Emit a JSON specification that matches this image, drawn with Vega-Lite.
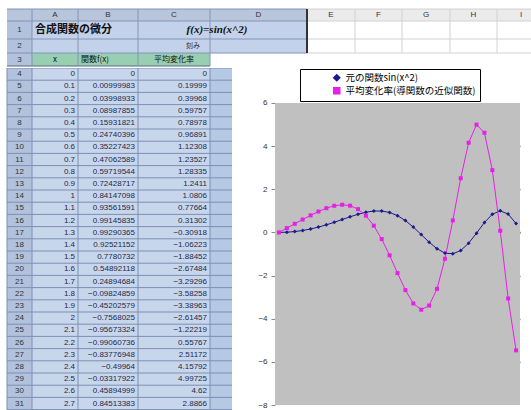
{
  "$schema": "https://vega.github.io/schema/vega-lite/v6.json",
  "padding": 0,
  "background": "white",
  "spacing": 0,
  "resolve": {"legend": {"color": "independent", "shape": "independent"}},
  "config": {"view": {"stroke": null}, "font": "Noto Sans CJK JP"},
  "datasets": {
    "t": [
      {"r":4,"x":0,"f":0,"d":0},
      {"r":5,"x":0.1,"f":0.00999983,"d":0.19999},
      {"r":6,"x":0.2,"f":0.03998933,"d":0.39968},
      {"r":7,"x":0.3,"f":0.08987855,"d":0.59757},
      {"r":8,"x":0.4,"f":0.15931821,"d":0.78978},
      {"r":9,"x":0.5,"f":0.24740396,"d":0.96891},
      {"r":10,"x":0.6,"f":0.35227423,"d":1.12308},
      {"r":11,"x":0.7,"f":0.47062589,"d":1.23527},
      {"r":12,"x":0.8,"f":0.59719544,"d":1.28335},
      {"r":13,"x":0.9,"f":0.72428717,"d":1.2411},
      {"r":14,"x":1,"f":0.84147098,"d":1.0806},
      {"r":15,"x":1.1,"f":0.93561591,"d":0.77664},
      {"r":16,"x":1.2,"f":0.99145835,"d":0.31302},
      {"r":17,"x":1.3,"f":0.99290365,"d":-0.30918},
      {"r":18,"x":1.4,"f":0.92521152,"d":-1.06223},
      {"r":19,"x":1.5,"f":0.7780732,"d":-1.88452},
      {"r":20,"x":1.6,"f":0.54892118,"d":-2.67484},
      {"r":21,"x":1.7,"f":0.24894684,"d":-3.29296},
      {"r":22,"x":1.8,"f":-0.09824859,"d":-3.58258},
      {"r":23,"x":1.9,"f":-0.45202579,"d":-3.38963},
      {"r":24,"x":2,"f":-0.7568025,"d":-2.61457},
      {"r":25,"x":2.1,"f":-0.95673324,"d":-1.22219},
      {"r":26,"x":2.2,"f":-0.99060736,"d":0.55767},
      {"r":27,"x":2.3,"f":-0.83776948,"d":2.51172},
      {"r":28,"x":2.4,"f":-0.49964,"d":4.15792},
      {"r":29,"x":2.5,"f":-0.03317922,"d":4.99725},
      {"r":30,"x":2.6,"f":0.45894999,"d":4.62},
      {"r":31,"x":2.7,"f":0.84513383,"d":2.8866},
      {"r":32,"x":2.8,"f":0.99990226,"d":0.07829},
      {"r":33,"x":2.9,"f":0.84936447,"d":-3.06129},
      {"r":34,"x":3,"f":0.41211849,"d":-5.46678}
    ]
  },
  "vconcat": [
    {
      "width": 531,
      "height": 66,
      "data": {"values": [{}]},
      "layer": [
        {"mark": {"type": "rect", "color": "#b9c5db"},
         "encoding": {
           "x": {"datum": 0, "type": "quantitative", "axis": null, "scale": {"type": "linear", "domain": [-1,0,1,2,3,4,5,6,7,8,9,10], "range": [0,7,32,78,138,210,307,355,402,450,497,545], "nice": false, "zero": false}},
           "x2": {"datum": 5},
           "y": {"datum": 0, "type": "quantitative", "axis": null, "scale": {"type": "linear", "domain": [-1,0,1,2,3,4], "range": [0,9,21,39,53,66], "nice": false, "zero": false}},
           "y2": {"datum": 1}}},
        {"mark": {"type": "rect", "color": "#ebebeb"},
         "encoding": {"x": {"datum": 5, "type": "quantitative", "axis": null}, "x2": {"datum": 10}, "y": {"datum": 0, "type": "quantitative", "axis": null}, "y2": {"datum": 1}}},
        {"mark": {"type": "rect", "color": "#c3d2ea"},
         "encoding": {"x": {"datum": 0, "type": "quantitative", "axis": null}, "x2": {"datum": 5}, "y": {"datum": 1, "type": "quantitative", "axis": null}, "y2": {"datum": 3}}},
        {"mark": {"type": "rect", "color": "#b2c2dc"},
         "encoding": {"x": {"datum": 0, "type": "quantitative", "axis": null}, "x2": {"datum": 1}, "y": {"datum": 1, "type": "quantitative", "axis": null}, "y2": {"datum": 4}}},
        {"mark": {"type": "rect", "color": "#98cfb3"},
         "encoding": {"x": {"datum": 1, "type": "quantitative", "axis": null}, "x2": {"datum": 4}, "y": {"datum": 3, "type": "quantitative", "axis": null}, "y2": {"datum": 4}}},
        {"data": {"values": [{"b": 0}, {"b": 1}, {"b": 2}, {"b": 3}]},
         "mark": {"type": "rule", "color": "#8294b6"},
         "encoding": {"y": {"field": "b", "type": "quantitative", "axis": null}, "x": {"datum": 0, "type": "quantitative", "axis": null}, "x2": {"datum": 5}}},
        {"data": {"values": [{"b": 4}]},
         "mark": {"type": "rule", "color": "#55667f"},
         "encoding": {"y": {"field": "b", "type": "quantitative", "axis": null}, "x": {"datum": 0, "type": "quantitative", "axis": null}, "x2": {"datum": 4}}},
        {"data": {"values": [{"b": 0}, {"b": 1}, {"b": 2}, {"b": 3}]},
         "mark": {"type": "rule", "color": "#d2d2d2"},
         "encoding": {"y": {"field": "b", "type": "quantitative", "axis": null}, "x": {"datum": 5, "type": "quantitative", "axis": null}, "x2": {"datum": 10}}},
        {"data": {"values": [{"b": 1}, {"b": 2}, {"b": 3}, {"b": 4}]},
         "mark": {"type": "rule", "color": "#8294b6"},
         "encoding": {"x": {"field": "b", "type": "quantitative", "axis": null}, "y": {"datum": 0, "type": "quantitative", "axis": null}, "y2": {"datum": 4}}},
        {"data": {"values": [{"b": 6}, {"b": 7}, {"b": 8}, {"b": 9}]},
         "mark": {"type": "rule", "color": "#d2d2d2"},
         "encoding": {"x": {"field": "b", "type": "quantitative", "axis": null}, "y": {"datum": 0, "type": "quantitative", "axis": null}, "y2": {"datum": 3}}},
        {"data": {"values": [{"b": 5}]},
         "mark": {"type": "rule", "color": "#333333", "strokeWidth": 2},
         "encoding": {"x": {"field": "b", "type": "quantitative", "axis": null}, "y": {"datum": 0, "type": "quantitative", "axis": null}, "y2": {"datum": 3}}},
        {"data": {"values": [{"c": "A", "cx": 1.5}, {"c": "B", "cx": 2.5}, {"c": "C", "cx": 3.5}, {"c": "D", "cx": 4.5}, {"c": "E", "cx": 5.5}, {"c": "F", "cx": 6.5}, {"c": "G", "cx": 7.5}, {"c": "H", "cx": 8.5}, {"c": "I", "cx": 9.5}]},
         "mark": {"type": "text", "fontSize": 8, "color": "#333333", "font": "Liberation Sans"},
         "encoding": {"x": {"field": "cx", "type": "quantitative", "axis": null}, "y": {"datum": 0.5, "type": "quantitative", "axis": null}, "text": {"field": "c"}}},
        {"data": {"values": [{"t": "1", "cy": 1.5}, {"t": "2", "cy": 2.5}, {"t": "3", "cy": 3.5}]},
         "mark": {"type": "text", "fontSize": 8, "color": "#333333", "font": "Liberation Sans"},
         "encoding": {"y": {"field": "cy", "type": "quantitative", "axis": null}, "x": {"datum": 0.5, "type": "quantitative", "axis": null}, "text": {"field": "t"}}},
        {"mark": {"type": "text", "fontSize": 11, "fontWeight": "bold", "align": "left", "dx": 3, "color": "#111111"},
         "encoding": {"x": {"datum": 1, "type": "quantitative", "axis": null}, "y": {"datum": 1.5, "type": "quantitative", "axis": null}, "text": {"value": "合成関数の微分"}}},
        {"mark": {"type": "text", "fontSize": 11, "fontWeight": "bold", "fontStyle": "italic", "font": "Liberation Serif", "align": "center", "dx": 7, "color": "#111111"},
         "encoding": {"x": {"datum": 4, "type": "quantitative", "axis": null}, "y": {"datum": 1.5, "type": "quantitative", "axis": null}, "text": {"value": "f(x)=sin(x^2)"}}},
        {"mark": {"type": "text", "fontSize": 7, "align": "right", "dx": -10, "color": "#333333"},
         "encoding": {"x": {"datum": 4, "type": "quantitative", "axis": null}, "y": {"datum": 2.5, "type": "quantitative", "axis": null}, "text": {"value": "刻み"}}},
        {"mark": {"type": "text", "fontSize": 8, "color": "#111111"},
         "encoding": {"x": {"datum": 1.5, "type": "quantitative", "axis": null}, "y": {"datum": 3.5, "type": "quantitative", "axis": null}, "text": {"value": "x"}}},
        {"mark": {"type": "text", "fontSize": 8, "align": "left", "dx": 3, "color": "#111111"},
         "encoding": {"x": {"datum": 2, "type": "quantitative", "axis": null}, "y": {"datum": 3.5, "type": "quantitative", "axis": null}, "text": {"value": "関数f(x)"}}},
        {"mark": {"type": "text", "fontSize": 8, "color": "#111111"},
         "encoding": {"x": {"datum": 3.5, "type": "quantitative", "axis": null}, "y": {"datum": 3.5, "type": "quantitative", "axis": null}, "text": {"value": "平均変化率"}}}
      ]
    },
    {
      "spacing": 0,
      "resolve": {"legend": {"color": "independent", "shape": "independent"}},
      "hconcat": [
        {
          "width": 232,
          "height": 344,
          "view": {"fill": "#c8d6ec"},
          "layer": [
            {"data": {"values": [{}]},
             "mark": {"type": "rect", "color": "#ffffff", "clip": true},
             "encoding": {"x": {"datum": -1, "type": "quantitative", "axis": null, "scale": {"type": "linear", "domain": [-1,0,1,2,3,4,5], "range": [0,7,32,78,138,210,307], "nice": false, "zero": false}}, "x2": {"datum": 0}}},
            {"data": {"values": [{}]},
             "mark": {"type": "rect", "color": "#b2c2dc", "clip": true},
             "encoding": {"x": {"datum": 0, "type": "quantitative", "axis": null}, "x2": {"datum": 1}}},
            {"data": {"values": [{}]},
             "mark": {"type": "rect", "color": "#b5c8e4", "clip": true},
             "encoding": {"x": {"datum": 4, "type": "quantitative", "axis": null}, "x2": {"datum": 5}}},
            {"data": {"name": "t"},
             "transform": [{"filter": "datum.r <= 32"}],
             "mark": {"type": "rule", "color": "#7d8fb4", "clip": true},
             "encoding": {
               "y": {"field": "r", "type": "ordinal", "bandPosition": 0, "axis": null, "scale": {"type": "band", "domain": [4,5,6,7,8,9,10,11,12,13,14,15,16,17,18,19,20,21,22,23,24,25,26,27,28,29,30,31,32], "range": [0, 353.8], "paddingInner": 0, "paddingOuter": 0}},
               "x": {"datum": 0, "type": "quantitative", "axis": null}, "x2": {"datum": 5}}},
            {"data": {"values": [{"b": 0}, {"b": 1}, {"b": 2}, {"b": 3}, {"b": 4}]},
             "mark": {"type": "rule", "color": "#7d8fb4"},
             "encoding": {"x": {"field": "b", "type": "quantitative", "axis": null}}},
            {"data": {"name": "t"},
             "transform": [{"filter": "datum.r <= 31"}],
             "mark": {"type": "text", "fontSize": 8, "color": "#333333", "font": "Liberation Sans"},
             "encoding": {"y": {"field": "r", "type": "ordinal", "axis": null}, "x": {"datum": 0.5, "type": "quantitative", "axis": null}, "text": {"field": "r"}}},
            {"data": {"name": "t"},
             "transform": [{"filter": "datum.r <= 31"}],
             "mark": {"type": "text", "fontSize": 8, "align": "right", "dx": -3, "color": "#1c2a4a", "font": "Liberation Sans"},
             "encoding": {"y": {"field": "r", "type": "ordinal", "axis": null}, "x": {"datum": 2, "type": "quantitative", "axis": null}, "text": {"field": "x", "type": "quantitative", "format": "~g"}}},
            {"data": {"name": "t"},
             "transform": [{"filter": "datum.r <= 31"}],
             "mark": {"type": "text", "fontSize": 8, "align": "right", "dx": -3, "color": "#1c2a4a", "font": "Liberation Sans"},
             "encoding": {"y": {"field": "r", "type": "ordinal", "axis": null}, "x": {"datum": 3, "type": "quantitative", "axis": null}, "text": {"field": "f", "type": "quantitative", "format": ".8~f"}}},
            {"data": {"name": "t"},
             "transform": [{"filter": "datum.r <= 31"}],
             "mark": {"type": "text", "fontSize": 8, "align": "right", "dx": -3, "color": "#1c2a4a", "font": "Liberation Sans"},
             "encoding": {"y": {"field": "r", "type": "ordinal", "axis": null}, "x": {"datum": 4, "type": "quantitative", "axis": null}, "text": {"field": "d", "type": "quantitative", "format": ".7~f"}}}
          ]
        },
        {
          "width": 245,
          "height": 337,
          "layer": [
            {"data": {"values": [{}]},
             "mark": {"type": "rect", "color": "#c0c0c0"},
             "encoding": {
               "y": {"datum": 6, "type": "quantitative", "scale": {"domain": [-8, 7.6225], "nice": false, "zero": false}},
               "y2": {"datum": -8}}},
            {"data": {"name": "t"},
             "transform": [{"fold": ["f", "d"], "as": ["s", "v"]}],
             "mark": {"type": "line", "strokeWidth": 1, "point": {"filled": true, "size": 16}},
             "encoding": {
               "x": {"field": "x", "type": "ordinal",
                     "axis": {"title": null, "values": [0,0.2,0.4,0.6,0.8,1,1.2,1.4,1.6,1.8,2,2.2,2.4,2.6,2.8,3], "offset": -172.57, "grid": false, "domain": true, "domainColor": "#6e6e6e", "domainWidth": 1.5, "ticks": false, "labelAngle": -90, "labelFontSize": 7, "labelColor": "#707070", "labelPadding": 3, "labelFont": "Liberation Sans"}},
               "y": {"field": "v", "type": "quantitative",
                     "axis": {"title": null, "values": [-8,-6,-4,-2,0,2,4,6], "grid": true,
                              "gridColor": {"condition": {"test": "datum.value === 6 || datum.value === -8", "value": "transparent"}, "value": "#6e6e6e"},
                              "gridWidth": 1.5, "domain": false, "tickColor": "#888888", "tickSize": 4, "labelPadding": 4, "labelFontSize": 8, "labelColor": "#333333", "labelFont": "Liberation Sans", "minExtent": 43}},
               "color": {"field": "s", "type": "nominal",
                         "scale": {"domain": ["f", "d"], "range": ["#1b1b8a", "#e620e6"]},
                         "legend": {"orient": "none", "legendX": 25, "legendY": 1, "title": null, "direction": "vertical",
                                    "fillColor": "white", "strokeColor": "#000000", "padding": 4,
                                    "symbolSize": 36, "symbolOffset": 28,
                                    "labelFontSize": 9.5, "labelColor": "#000000", "rowPadding": 0,
                                    "labelExpr": "datum.value === 'f' ? '元の関数sin(x^2)' : '平均変化率(導関数の近似関数)'"}},
               "shape": {"field": "s", "type": "nominal", "scale": {"domain": ["f", "d"], "range": ["diamond", "square"]}, "legend": null}
             }}
          ]
        }
      ]
    }
  ]
}
